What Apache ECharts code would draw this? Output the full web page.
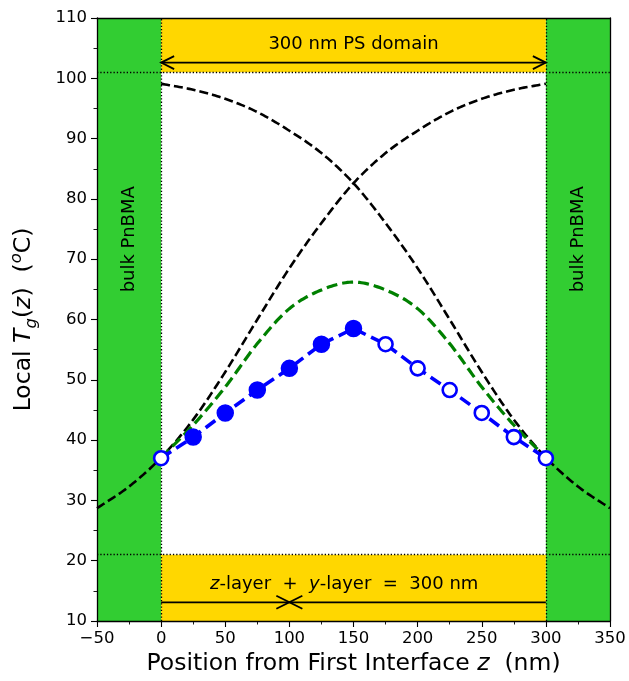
<!DOCTYPE html>
<html><head><meta charset="utf-8">
<script src="https://cdn.jsdelivr.net/npm/echarts@6/dist/echarts.min.js"></script>
<style>html,body{margin:0;padding:0;background:#fff}#c{width:629px;height:681px}</style>
</head><body><div id="c"></div>
<script>
// ---- data ----
const xTickMin = -50, xTickMax = 350, xTickStep = 50;
const yTickMin = 10, yTickMax = 110, yTickStep = 10;

const blueX = [0, 25, 50, 75, 100, 125, 150, 175, 200, 225, 250, 275, 300];
const blueY = [37.0, 40.5, 44.5, 48.3, 51.9, 55.9, 58.5, 55.9, 51.9, 48.3, 44.5, 40.5, 37.0];
const blueFilled = [false, true, true, true, true, true, true, false, false, false, false, false, false];

const riseX = [-50, -25, 0, 25, 50, 75, 100, 125, 150, 175, 200, 225, 250, 275, 300];
const riseY = [28.7, 32.3, 37.1, 43.4, 51.3, 60.0, 68.5, 76.0, 82.6, 87.6, 91.3, 94.4, 96.6, 98.1, 99.1];
const fallX = [0, 25, 50, 75, 100, 125, 150, 175, 200, 225, 250, 275, 300, 325, 350];
const fallY = [99.1, 98.1, 96.6, 94.4, 91.3, 87.6, 82.6, 76.0, 68.5, 60.0, 51.3, 43.4, 37.1, 32.3, 28.7];

const greenX = [0, 25, 50, 75, 100, 125, 150, 175, 200, 225, 250, 275, 300];
const greenY = [37.1, 42.5, 48.8, 56.0, 61.8, 64.9, 66.2, 64.9, 61.8, 56.0, 48.8, 42.5, 37.1];

const bulkRegions = [[-50, 0], [300, 350]];
const psBandX = [0, 300];
const psBandsY = [[101, 110], [10, 21]];
const boundaryX = [0, 300];
const boundaryY = [101, 21];

// arrows: [xFrom, xTo, y, headAtFrom, headAtTo]
const arrowSpecs = [[0, 300, 102.6, 1, 1], [0, 100, 13.1, 0, 1], [300, 100, 13.1, 0, 1]];

// annotations
const noteTexts = ['300 nm PS domain', '{i|z}-layer  +  {i|y}-layer  =  300 nm', 'bulk PnBMA', 'bulk PnBMA'];
const noteX = [150, 142.7, -25, 325];
const noteY = [105.6, 16.1, 73.3, 73.3];
const noteRot = [0, 0, 1, 1];

// ---- chart ----
const FONT = 'DejaVu Sans';
const fmt = v => (v < 0 ? '\u2212' + Math.abs(v) : String(v));
const chart = echarts.init(document.getElementById('c'), null, {renderer: 'canvas'});

const pair = (xs, ys) => xs.map((x, i) => [x, ys[i]]);
const TS = 23.5;

// Catmull-Rom drawing of pixel-space points (rendering only)
function splinePixels(p) {
  const out = [];
  const n = p.length;
  const get = i => {
    if (i < 0) return [2 * p[0][0] - p[1][0], 2 * p[0][1] - p[1][1]];
    if (i >= n) return [2 * p[n - 1][0] - p[n - 2][0], 2 * p[n - 1][1] - p[n - 2][1]];
    return p[i];
  };
  const steps = 16;
  for (let i = 0; i < n - 1; i++) {
    const p0 = get(i - 1), p1 = get(i), p2 = get(i + 1), p3 = get(i + 2);
    for (let s = 0; s < steps; s++) {
      const t = s / steps, t2 = t * t, t3 = t2 * t;
      const f = k => 0.5 * ((2 * p1[k]) + (-p0[k] + p2[k]) * t + (2 * p0[k] - 5 * p1[k] + 4 * p2[k] - p3[k]) * t2 + (-p0[k] + 3 * p1[k] - 3 * p2[k] + p3[k]) * t3);
      out.push([f(0), f(1)]);
    }
  }
  out.push(p[n - 1]);
  return out;
}
function curveSeries(xs, ys, color, width, dash, z) {
  return {
    type: 'custom', z: z, silent: true, clip: true,
    encode: {x: 0, y: 1},
    data: pair(xs, ys),
    renderItem: function (params, api) {
      if (params.dataIndex !== 0) return null;
      const px = xs.map((x, i) => api.coord([x, ys[i]]));
      return {type: 'polyline', shape: {points: splinePixels(px)},
              style: {stroke: color, lineWidth: width, lineDash: dash, fill: 'none'}};
    }
  };
}

const option = {
  animation: false,
  grid: {left: 96, right: 19, top: 18, bottom: 60},
  xAxis: [{
    type: 'value', min: xTickMin, max: xTickMax, interval: xTickStep, z: 10,
    axisLine: {show: true, onZero: false, lineStyle: {color: '#000', width: 1.3}},
    axisTick: {show: true, length: 6, lineStyle: {color: '#000', width: 1.1}},
    minorTick: {show: true, splitNumber: 2, length: 3.5, lineStyle: {color: '#000', width: 0.9}},
    splitLine: {show: false},
    axisLabel: {color: '#000', fontFamily: FONT, fontSize: 16.5, margin: 9, formatter: fmt},
    name: '{n|Position from First Interface }{it|z}{n|  (nm)}',
    nameLocation: 'middle', nameGap: 30,
    nameTextStyle: {color: '#000', fontFamily: FONT, fontSize: TS, verticalAlign: 'top',
      rich: {n: {fontFamily: FONT, fontSize: TS, color: '#000'},
             it: {fontFamily: FONT, fontSize: TS, fontStyle: 'italic', color: '#000'}}}
  }, {
    type: 'value', position: 'top', min: xTickMin, max: xTickMax, z: 10,
    axisLine: {show: true, onZero: false, lineStyle: {color: '#000', width: 1.3}},
    axisTick: {show: false}, axisLabel: {show: false}, splitLine: {show: false}
  }],
  yAxis: [{
    type: 'value', min: yTickMin, max: yTickMax, interval: yTickStep, z: 10,
    axisLine: {show: true, onZero: false, lineStyle: {color: '#000', width: 1.3}},
    axisTick: {show: true, length: 6, lineStyle: {color: '#000', width: 1.1}},
    minorTick: {show: true, splitNumber: 2, length: 3.5, lineStyle: {color: '#000', width: 0.9}},
    splitLine: {show: false},
    axisLabel: {color: '#000', fontFamily: FONT, fontSize: 16.5, margin: 10, formatter: fmt},
    name: '{n|Local }{it|T}{sub|g}{n|(}{it|z}{n|)  (}{sup|o}{n|C)}',
    nameLocation: 'middle', nameRotate: 90, nameGap: 57,
    nameTextStyle: {color: '#000', fontFamily: FONT, fontSize: TS,
      rich: {n: {fontFamily: FONT, fontSize: TS, color: '#000', lineHeight: 32},
             it: {fontFamily: FONT, fontSize: TS, fontStyle: 'italic', color: '#000', lineHeight: 32},
             sub: {fontFamily: FONT, fontSize: 16.5, fontStyle: 'italic', color: '#000', lineHeight: 19, verticalAlign: 'bottom'},
             sup: {fontFamily: FONT, fontSize: 16.5, fontStyle: 'italic', color: '#000', lineHeight: 15, verticalAlign: 'top'}}}
  }, {
    type: 'value', position: 'right', min: yTickMin, max: yTickMax, z: 10,
    axisLine: {show: true, onZero: false, lineStyle: {color: '#000', width: 1.3}},
    axisTick: {show: false}, axisLabel: {show: false}, splitLine: {show: false}
  }],
  series: [
    {
      type: 'line', data: [], z: 1, silent: true,
      markArea: {
        silent: true,
        data: bulkRegions.map(r => [{xAxis: r[0], itemStyle: {color: '#32CD32', opacity: 1}}, {xAxis: r[1]}])
          .concat(psBandsY.map(b => [{xAxis: psBandX[0], yAxis: b[0], itemStyle: {color: '#FFD700', opacity: 1}},
                                      {xAxis: psBandX[1], yAxis: b[1]}]))
      }
    },
    {
      type: 'line', data: [], z: 2, silent: true,
      markLine: {
        silent: true, symbol: 'none', label: {show: false},
        lineStyle: {color: '#000', width: 1.3, type: [1.3, 2]},
        emphasis: {disabled: true},
        data: boundaryX.map(x => ({xAxis: x})).concat(boundaryY.map(y => ({yAxis: y})))
      }
    },
    curveSeries(riseX, riseY, '#000', 2.6, [9, 4], 3),
    curveSeries(fallX, fallY, '#000', 2.6, [9, 4], 3),
    curveSeries(greenX, greenY, '#008000', 3.2, [11, 5], 4),
    {
      type: 'line', data: pair(blueX, blueY), z: 5, showSymbol: false, silent: true,
      lineStyle: {color: '#0000FF', width: 3.6, type: [12, 6]}
    },
    {
      type: 'scatter', z: 6, silent: true,
      data: blueX.map((x, i) => blueFilled[i]
        ? {value: [x, blueY[i]], symbolSize: 16, itemStyle: {color: '#0000FF', borderColor: '#0000FF', borderWidth: 1.5, opacity: 1}}
        : {value: [x, blueY[i]], symbolSize: 14, itemStyle: {color: '#FFFFFF', borderColor: '#0000FF', borderWidth: 2.6, opacity: 1}})
    },
    {
      type: 'custom', z: 7, silent: true, clip: false,
      encode: {x: [0, 1], y: 2},
      data: arrowSpecs,
      renderItem: function (params, api) {
        const y = api.value(2);
        const a = api.coord([api.value(0), y]);
        const b = api.coord([api.value(1), y]);
        const dir = b[0] > a[0] ? 1 : -1;
        const L = 13, H = 6.5;
        const st = {stroke: '#000', lineWidth: 1.8, fill: 'none'};
        const kids = [{type: 'line', shape: {x1: a[0], y1: a[1], x2: b[0], y2: b[1]}, style: st}];
        if (api.value(3)) kids.push({type: 'polyline', shape: {points: [[a[0] + dir * L, a[1] - H], [a[0], a[1]], [a[0] + dir * L, a[1] + H]]}, style: st});
        if (api.value(4)) kids.push({type: 'polyline', shape: {points: [[b[0] - dir * L, b[1] - H], [b[0], b[1]], [b[0] - dir * L, b[1] + H]]}, style: st});
        return {type: 'group', children: kids};
      }
    },
    {
      type: 'custom', z: 8, silent: true, clip: false,
      encode: {x: 0, y: 1},
      data: noteX.map((x, i) => [x, noteY[i], noteRot[i], i]),
      renderItem: function (params, api) {
        const p = api.coord([api.value(0), api.value(1)]);
        const i = api.value(3);
        return {
          type: 'text', x: p[0], y: p[1], rotation: api.value(2) ? Math.PI / 2 : 0,
          style: {
            text: noteTexts[i], fill: '#000', font: '18px "DejaVu Sans"',
            align: 'center', verticalAlign: 'middle',
            rich: {i: {fontFamily: FONT, fontSize: 18, fontStyle: 'italic', fill: '#000'}}
          }
        };
      }
    }
  ]
};
chart.setOption(option);
</script>
</body></html>
